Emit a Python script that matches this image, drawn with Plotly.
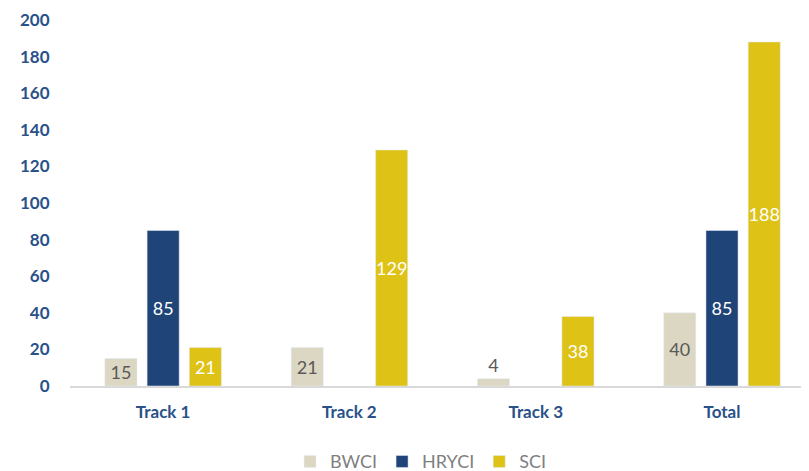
import plotly.graph_objects as go

categories = ["Track 1", "Track 2", "Track 3", "Total"]
bwci = [15, 21, 4, 40]
hryci = [85, None, None, 85]
sci = [21, 129, 38, 188]
y_ticks = [0, 20, 40, 60, 80, 100, 120, 140, 160, 180, 200]

FONT = "Lato"
fig = go.Figure()

def lbl(vals):
    return [("" if v is None else str(v)) for v in vals]

common = dict(insidetextanchor="middle", constraintext="none", textangle=0, cliponaxis=False)

fig.add_trace(go.Bar(
    name="BWCI", x=categories, y=bwci, text=lbl(bwci),
    marker=dict(color="#DCD7C2"),
    textposition=["inside", "inside", "outside", "inside"],
    textfont=dict(color="#595959", size=18, family=FONT), **common,
))
fig.add_trace(go.Bar(
    name="HRYCI", x=categories, y=hryci, text=lbl(hryci),
    marker=dict(color="#1F4478"),
    textposition="inside",
    textfont=dict(color="#FFFFFF", size=18, family=FONT), **common,
))
fig.add_trace(go.Bar(
    name="SCI", x=categories, y=sci, text=lbl(sci),
    marker=dict(color="#DFC216"),
    textposition="inside",
    textfont=dict(color="#FFFFFF", size=18, family=FONT), **common,
))

# page has an 8px body margin, so the figure is sized/offset to compensate
fig.update_layout(
    width=801, height=463,
    margin=dict(l=62, r=0, t=12, b=85),
    paper_bgcolor="white", plot_bgcolor="white",
    barmode="group", bargap=0.32, bargroupgap=0.24,
    font=dict(family=FONT),
    showlegend=True,
    legend=dict(orientation="h", x=0.475, xanchor="center", xref="paper",
                y=0.02, yanchor="middle", yref="container",
                font=dict(size=18, color="#7F7F7F", family=FONT),
                itemwidth=30, traceorder="normal"),
)
fig.update_xaxes(
    range=[-0.5, 3.467], automargin=False,
    showline=True, linecolor="#D9D9D9", linewidth=1.5,
    showgrid=False, ticks="outside", ticklen=10, tickcolor="rgba(0,0,0,0)",
    tickfont=dict(size=17, color="#2A5189", family=FONT, weight="bold"),
)
fig.update_yaxes(
    range=[0, 200], tickvals=y_ticks, automargin=False, ticklabeloverflow="allow",
    showgrid=False, showline=False, zeroline=False,
    ticks="outside", ticklen=16, tickcolor="rgba(0,0,0,0)",
    tickfont=dict(size=17, color="#2A5189", family=FONT, weight="bold"),
)

fig.write_html("out.html")
